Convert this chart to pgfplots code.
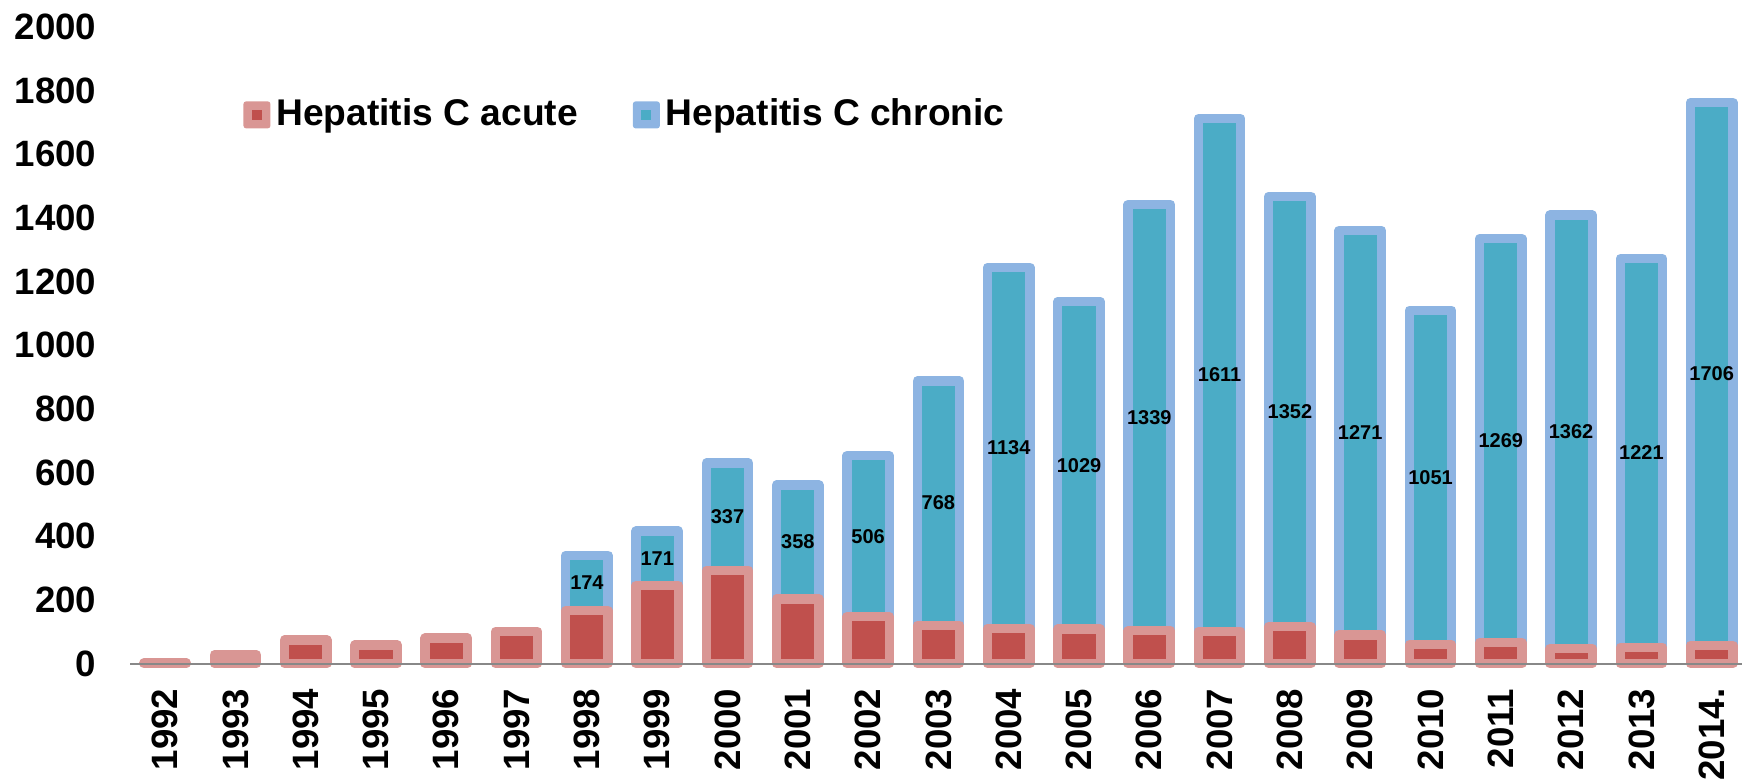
\documentclass[border=0pt]{standalone}
\usepackage{pgfplots}
\usepackage{pgfplotstable}
\pgfplotsset{compat=1.18}
\usepackage{fontspec}
\setmainfont{Liberation Sans}
\definecolor{acuteD}{HTML}{C0504D}
\definecolor{acuteL}{HTML}{D99694}
\definecolor{chronD}{HTML}{4BACC6}
\definecolor{chronL}{HTML}{8DB4E2}
\definecolor{axgray}{HTML}{888888}

\pgfplotstableread{
x acute
0 2
1 27
2 74
3 58
4 80
5 100
}\early

\pgfplotstableread{
x acute chronic
6 166 174
7 245 171
8 293 337
9 203 358
10 147 506
11 120 768
12 111 1134
13 108 1029
14 103 1339
15 101 1611
16 116 1352
17 90 1271
18 59 1051
19 66 1269
20 47 1362
21 51 1221
22 57 1706
}\late

\pgfplotsset{
  common/.style={
    scale only axis, width=484pt, height=190.95pt,
    xmin=-0.5, xmax=22.45, ymin=0, ymax=2000,
    clip=false,
    at={(39pt,34.65pt)}, anchor=south west,
    bar width=12.72pt,
    /pgf/number format/1000 sep={},
    /pgf/number format/assume math mode=true,
  },
  barA/.style={fill=acuteD, draw=acuteL, line width=2.79pt, line join=round},
  barC/.style={fill=chronD, draw=chronL, line width=2.79pt, line join=round},
}

\begin{document}
\begin{tikzpicture}
\begin{axis}[common, ybar, hide axis]
\addplot[barA] table[x=x,y=acute]{\early};
\end{axis}
\begin{axis}[common, ybar stacked, axis on top,
  axis lines*=left,
  y axis line style={draw=none},
  x axis line style={draw=axgray, line width=0.6pt},
  major tick length=0pt,
  xtick={0,...,22},
  xticklabels={1992,1993,1994,1995,1996,1997,1998,1999,2000,2001,2002,2003,2004,2005,2006,2007,2008,2009,2010,2011,2012,2013,2014.},
  ytick={0,200,...,2000},
  yticklabel style={font=\fontsize{11}{13}\selectfont\bfseries, anchor=east, inner xsep=9.9pt, inner ysep=0pt},
  xticklabel style={font=\fontsize{11}{13}\selectfont\bfseries, rotate=90, anchor=east, inner xsep=7.35pt, inner ysep=0pt},
  legend columns=2,
  legend style={at={(0.0699,0.8622)}, anchor=west, draw=none, fill=none, inner sep=0pt,
    font=\fontsize{11.15}{13}\selectfont\bfseries, nodes={inner sep=0pt},
    /tikz/every odd column/.append style={column sep=1.77pt},
    /tikz/every even column/.append style={column sep=16.5pt}},
]
\addplot[barA, legend image code/.code={\fill[acuteL, draw=none, rounded corners=0.8pt] (0pt,-4.1pt) rectangle (8.1pt,4.0pt); \fill[acuteD, draw=none] (2.55pt,-1.6pt) rectangle (5.55pt,1.4pt);}]
  table[x=x,y=acute]{\late};
\addlegendentry{Hepatitis C acute}
\addplot[barC, nodes near coords,
  every node near coord/.append style={font=\fontsize{6}{7}\selectfont\bfseries, text=black, anchor=center},
  legend image code/.code={\fill[chronL, draw=none, rounded corners=0.8pt] (0pt,-4.1pt) rectangle (8.1pt,4.0pt); \fill[chronD, draw=none] (2.55pt,-1.6pt) rectangle (5.55pt,1.4pt);}]
  table[x=x,y=chronic]{\late};
\addlegendentry{Hepatitis C chronic}
\end{axis}
\pgfresetboundingbox
\useasboundingbox (0,0) rectangle (522.6pt,233.7pt);
\end{tikzpicture}
\end{document}
